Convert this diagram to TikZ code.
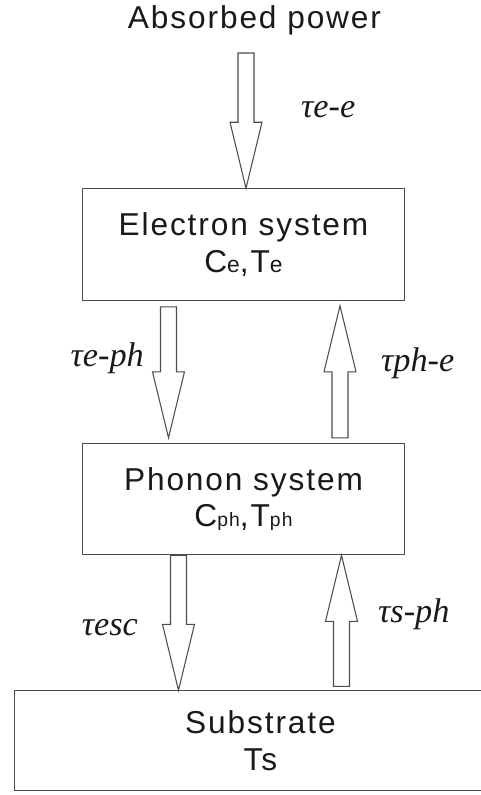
\documentclass[tikz,border=0pt]{standalone}
\usepackage{fontspec}
\setmainfont{Liberation Sans}[LetterSpace=6]
\newfontfamily\taufont{Liberation Serif}
\usepackage{tikz}
\usetikzlibrary{positioning, calc}

% hollow block arrow from #1 to #2 (vertical)
\newcommand{\hollowarrow}[2]{%
  \draw[blockline] ($(#1)+(-0.16,0)$) -- ($(#2)!1.32cm!(#1)+(-0.16,0)$)
    -- ($(#2)!1.32cm!(#1)+(-0.32,0)$) -- (#2)
    -- ($(#2)!1.32cm!(#1)+(0.32,0)$) -- ($(#2)!1.32cm!(#1)+(0.16,0)$)
    -- ($(#1)+(0.16,0)$) -- cycle;}

\begin{document}
\begin{tikzpicture}[
   sysbox/.style = {draw=black!70, line width=0.6pt, rectangle, minimum width=6.45cm, minimum height=2.23cm, align=center, text=black!90, font=\fontsize{18}{21}\selectfont},
   taulabel/.style = {text=black!90, font=\taufont\itshape\fontsize{19.5}{19.5}\selectfont},
   blockline/.style = {draw=black!70, line width=0.6pt, line join=miter}
   ]
  \useasboundingbox (0,0) rectangle (9.62,-15.9);
  \clip (0,0) rectangle (9.62,-15.9);

  % Input
  \node[anchor=base, text=black!90, font=\fontsize{18}{21}\selectfont] (power) at (5.09,-0.56) {Absorbed power};
  \coordinate (src) at (4.92,-1.06);

  % Electron box
  \node[sysbox] (elec) at (4.87,-4.89)
   {Electron system\\
   C{\fontsize{13}{13}\selectfont e},T{\fontsize{13}{13}\selectfont e}};

  % Phonon box
  \node[sysbox, below=2.84cm of elec] (phon)
   {Phonon system\\
   C{\fontsize{11}{11}\selectfont ph},T{\fontsize{11}{11}\selectfont ph}};

  % Substrate box
  \node[sysbox, below=2.7cm of phon, xshift=0.34cm, minimum width=9.84cm, minimum height=2cm] (subs)
   {Substrate\\
   Ts};

  % Arrow ends
  \coordinate (ep) at ([xshift=-1.5cm,yshift=-0.12cm]elec.south);
  \coordinate (pe) at ([xshift=1.93cm,yshift=0.1cm]phon.north);
  \coordinate (esc) at ([xshift=-1.3cm]phon.south);
  \coordinate (sp) at ([xshift=1.96cm,yshift=0.08cm]subs.north -| phon.center);

  % Arrows
  \hollowarrow{src}{src |- elec.north}
  \hollowarrow{ep}{[yshift=0.1cm]ep |- phon.north}
  \hollowarrow{pe}{[yshift=-0.1cm]pe |- elec.south}
  \hollowarrow{esc}{esc |- subs.north}
  \hollowarrow{sp}{sp |- phon.south}

  % Labels
  \node[taulabel, anchor=base west] (tee) at (5.9,-2.34) {τe-e};
  \node[taulabel, anchor=base east] (teph) at (3.0,-7.32) {τe-ph};
  \node[taulabel, anchor=base west] (tphe) at (7.5,-7.42) {τph-e};
  \node[taulabel, anchor=base east] (tesc) at (2.88,-12.7) {τesc};
  \node[taulabel, anchor=base west] (tsph) at (7.44,-12.44) {τs-ph};
\end{tikzpicture}
\end{document}
